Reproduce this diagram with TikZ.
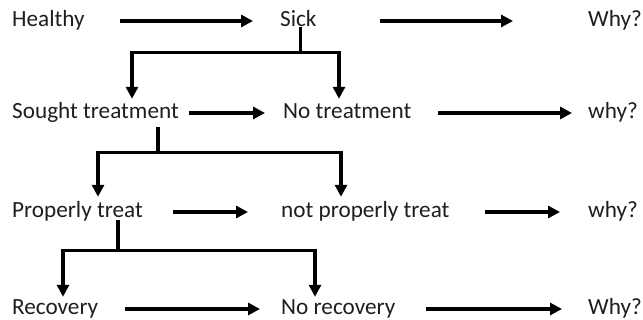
\documentclass[tikz,border=0pt]{standalone}
\usepackage{fontspec}
\setmainfont{Carlito}
\usetikzlibrary{arrows.meta}
\definecolor{txt}{RGB}{30,30,30}
\begin{document}
\begin{tikzpicture}[x=1pt,y=1pt,
  lbl/.style={anchor=west,inner sep=0pt,text height=12pt,text depth=0pt,
    font=\fontsize{23.2pt}{28pt}\selectfont,text=txt},
  ln/.style={line width=3.2pt,black},
  arr/.style={ln,-{Triangle[length=12pt,width=12pt]}}]
\useasboundingbox (0,0) rectangle (643,320);
% nodes
\node[lbl] (h)   at (12,299)  {Healthy};
\node[lbl] (s)   at (280,299) {Sick};
\node[lbl] (w1)  at (588,299) {Why?};
\node[lbl] (st)  at (12,207)  {Sought treatment};
\node[lbl] (nt)  at (283,207) {No treatment};
\node[lbl] (w2)  at (588,207) {why?};
\node[lbl] (pt)  at (12,108)  {Properly treat};
\node[lbl] (npt) at (281,108) {not properly treat};
\node[lbl] (w3)  at (588,108) {why?};
\node[lbl] (r)   at (12,11)   {Recovery};
\node[lbl] (nr)  at (281,11)  {No recovery};
\node[lbl] (w4)  at (588,11)  {Why?};
% horizontal arrows
\draw[arr] ([xshift=35pt]h.east)   -- ([xshift=-27pt]s.west);
\draw[arr] ([xshift=63pt]s.east)   -- ([xshift=-75pt]w1.west);
\draw[arr] ([xshift=10pt]st.east)  -- ([xshift=-18pt]nt.west);
\draw[arr] ([xshift=27pt]nt.east)  -- ([xshift=-16pt]w2.west);
\draw[arr] ([xshift=30pt]pt.east)  -- ([xshift=-33pt]npt.west);
\draw[arr] ([xshift=35pt]npt.east) -- ([xshift=-28pt]w3.west);
\draw[arr] ([xshift=27pt]r.east)   -- ([xshift=-21pt]nr.west);
\draw[arr] ([xshift=31pt]nr.east)  -- ([xshift=-26pt]w4.west);
% branch 1
\draw[ln] ([xshift=2.4pt]s.south) -- ++(0,-25) coordinate (j1);
\draw[arr] (j1) -| ([xshift=120pt,yshift=8pt]st.north west);
\draw[arr] (j1) -| ([xshift=56pt,yshift=8pt]nt.north west);
% branch 2
\draw[ln] ([xshift=146pt,yshift=-8pt]st.south west) -- ++(0,-25) coordinate (j2);
\draw[arr] (j2) -| ([xshift=86pt,yshift=9pt]pt.north west);
\draw[arr] (j2) -| ([xshift=60pt,yshift=9pt]npt.north west);
% branch 3
\draw[ln] ([xshift=106pt,yshift=-2pt]pt.south west) -- ++(0,-30) coordinate (j3);
\draw[arr] (j3) -| ([xshift=51pt,yshift=6pt]r.north west);
\draw[arr] (j3) -| ([xshift=34pt,yshift=6pt]nr.north west);
\end{tikzpicture}
\end{document}
